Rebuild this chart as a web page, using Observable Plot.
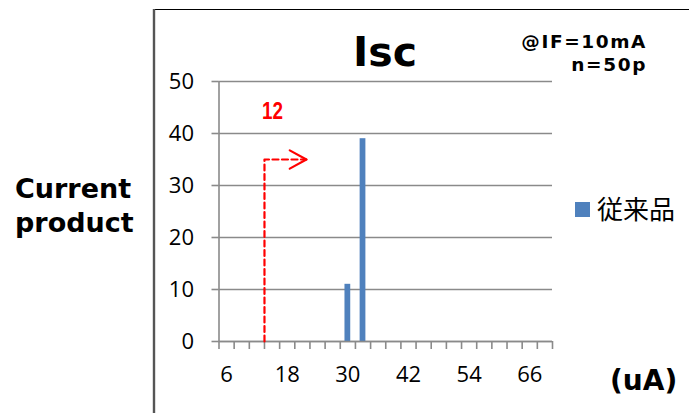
<!DOCTYPE html>
<html>
<head>
<meta charset="utf-8">
<script src="https://cdn.jsdelivr.net/npm/d3@7"></script>
<script src="https://cdn.jsdelivr.net/npm/@observablehq/plot@0.6"></script>
<style>
  html, body { margin: 0; padding: 0; background: #fff; }
  #wrap { position: relative; width: 689px; height: 413px; overflow: hidden; background: #fff; }
  #wrap svg { position: absolute; left: 0; top: 0; }
</style>
</head>
<body>
<div id="wrap"></div>
<script>
// ---- data ----
const categories = [6, 9, 12, 15, 18, 21, 24, 27, 30, 33, 36, 39, 42, 45, 48, 51, 54, 57, 60, 63, 66, 69];
const counts     = [0, 0, 0, 0, 0, 0, 0, 0, 11, 39, 0, 0, 0, 0, 0, 0, 0, 0, 0, 0, 0, 0];
const xTickLabels = [6, 18, 30, 42, 54, 66];
const yTicks = [0, 10, 20, 30, 40, 50];
const seriesName = "従来品";
const limitValue = 12;       // spec limit shown with the red arrow
const limitLabel = "12";
const arrowHeight = 35;      // height (count units) of the elbow of the limit arrow
const arrowReach = 21.8;     // x value the arrow points to

const step = 3;
const table = categories.map((c, i) => ({x: c, count: counts[i]}));
const boundaries = d3.range(categories.length + 1).map(i => categories[0] - step / 2 + i * step);
const xMin = boundaries[0], xMax = boundaries[boundaries.length - 1];
const limitX = limitValue + step / 2;

const gray = "#8a8a8a";
const blue = "#4F81BD";
const red = "#ff0000";
const tickFont = "'Open Sans', 'DejaVu Sans', sans-serif";

const chart = Plot.plot({
  width: 689,
  height: 413,
  marginLeft: 218.5,
  marginRight: 137,
  marginTop: 81,
  marginBottom: 72,
  style: {fontFamily: tickFont, fontSize: "22px", color: "#000", background: "transparent", overflow: "visible"},
  x: {domain: [xMin, xMax]},
  y: {domain: [0, 50]},
  marks: [
    Plot.gridY(yTicks, {stroke: gray, strokeOpacity: 1, strokeWidth: 1.6}),
    Plot.axisY(yTicks, {tickSize: 7, tickPadding: 18, stroke: gray, strokeWidth: 1.6, fontSize: 22, label: null, fill: "#000"}),
    Plot.axisX(boundaries, {tickSize: 8, tickFormat: () => "", stroke: gray, strokeWidth: 1.6, label: null}),
    Plot.axisX(xTickLabels, {tickSize: 0, tickPadding: 25, fontSize: 22, label: null, fill: "#000"}),
    Plot.rectY(table, {x1: d => d.x - step / 2, x2: d => d.x + step / 2, y: "count", fill: blue, insetLeft: 4.7, insetRight: 4.7}),
    Plot.ruleX([xMin], {y1: 0, y2: 50, stroke: gray, strokeWidth: 1.6}),
    Plot.ruleY([0], {stroke: gray, strokeWidth: 1.6}),
    // red dashed limit arrow
    Plot.line([{x: limitX, y: 0}, {x: limitX, y: arrowHeight}, {x: arrowReach, y: arrowHeight}],
      {x: "x", y: "y", stroke: red, strokeWidth: 2.2, strokeDasharray: "6,3.5", curve: "linear"}),
    Plot.line([{x: arrowReach - 3.3, y: arrowHeight + 1.75}, {x: arrowReach, y: arrowHeight}, {x: arrowReach - 3.3, y: arrowHeight - 1.75}],
      {x: "x", y: "y", stroke: red, strokeWidth: 2.2, curve: "linear"})
  ]
});
document.getElementById("wrap").appendChild(chart);

// ---- text annotations & frame (overlay) ----
const ns = "http://www.w3.org/2000/svg";
const ov = document.createElementNS(ns, "svg");
ov.setAttribute("width", 689);
ov.setAttribute("height", 413);
ov.style.pointerEvents = "none";
function add(tag, attrs, text) {
  const el = document.createElementNS(ns, tag);
  for (const k in attrs) el.setAttribute(k, attrs[k]);
  if (text != null) el.textContent = text;
  ov.appendChild(el);
  return el;
}
// frame lines
add("line", {x1: 154, y1: 9.5, x2: 689, y2: 9.5, stroke: "#000", "stroke-width": 1.2});
add("line", {x1: 154, y1: 9, x2: 154, y2: 413, stroke: "#555", "stroke-width": 2.4});
const boldFont = "'DejaVu Sans', Verdana, sans-serif";
// left label
add("text", {x: 15, y: 198, "font-family": boldFont, "font-weight": "bold", "font-size": 27, fill: "#000"}, "Current");
add("text", {x: 15, y: 232, "font-family": boldFont, "font-weight": "bold", "font-size": 27, fill: "#000"}, "product");
// title
add("text", {x: 385, y: 66, "text-anchor": "middle", "font-family": boldFont, "font-weight": "bold", "font-size": 41, fill: "#000"}, "Isc");
add("text", {x: 647, y: 48, "text-anchor": "end", "font-family": boldFont, "font-weight": "bold", "font-size": 18.5, fill: "#000", "letter-spacing": 1.6}, "@IF=10mA");
add("text", {x: 647, y: 71, "text-anchor": "end", "font-family": boldFont, "font-weight": "bold", "font-size": 18.5, fill: "#000", "letter-spacing": 1.6}, "n=50p");
// limit label
add("text", {x: 262, y: 119, "font-family": "'Liberation Sans Narrow', 'Liberation Sans', sans-serif", "font-weight": "bold", "font-size": 24, fill: red, textLength: 21, lengthAdjust: "spacingAndGlyphs"}, limitLabel);
// legend
add("rect", {x: 575, y: 202, width: 15, height: 15, fill: blue});
add("text", {x: 597, y: 219, "font-family": "'Noto Sans CJK JP', sans-serif", "font-size": 26, fill: "#000"}, seriesName);
// unit
add("text", {x: 610, y: 390, "font-family": boldFont, "font-weight": "bold", "font-size": 28, fill: "#000"}, "(uA)");
document.getElementById("wrap").appendChild(ov);
</script>
</body>
</html>
